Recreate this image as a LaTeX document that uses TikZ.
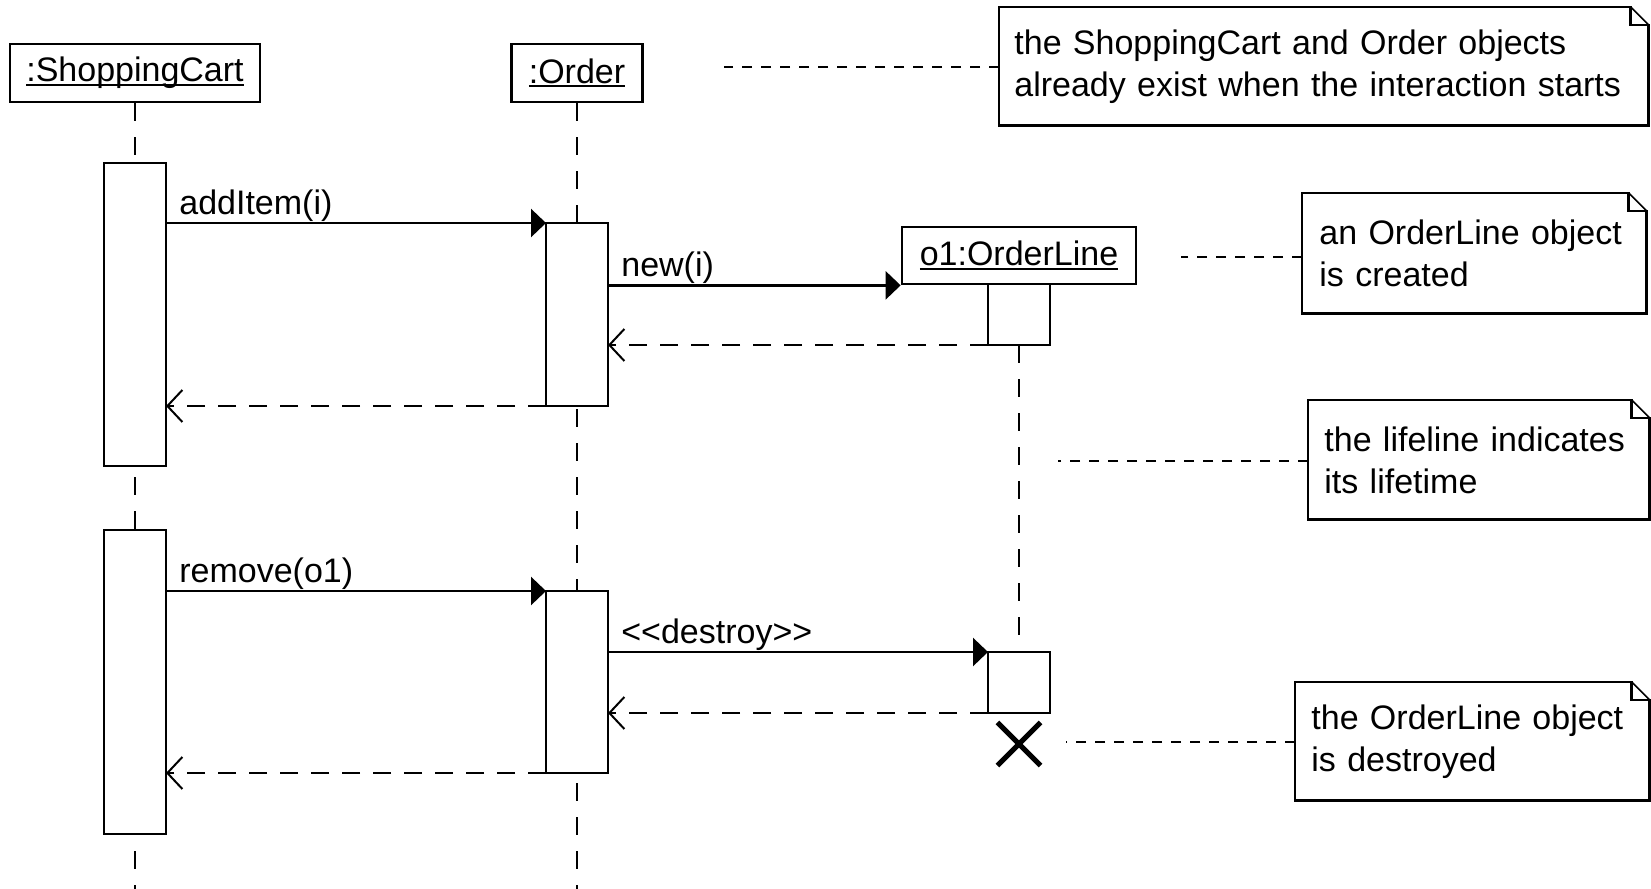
\documentclass[tikz,border=0pt]{standalone}
\usepackage{fontspec}
\setmainfont{Liberation Sans}
\usetikzlibrary{arrows.meta,shapes.misc}
\newcommand\objul[1]{\setbox0\hbox{#1}\rlap{\rule[-2pt]{\wd0}{1pt}}\box0}
\tikzset{
  obj/.style={draw, fill=white, line width=1.35pt, minimum height=29pt, inner sep=0pt},
  bar/.style={draw, fill=white, line width=1.35pt, minimum width=31pt, inner sep=0pt, outer sep=0pt, anchor=north},
  life/.style={line width=1.35pt, dash pattern=on 9pt off 8pt},
  call/.style={line width=1.35pt, -{Triangle[length=7.5pt,width=14pt]}},
  reply/.style={line width=1.35pt, dash pattern=on 9pt off 6.5pt, -{Straight Barb[length=7.5pt,width=16pt,line width=1pt]}},
  lbl/.style={above right, inner sep=0pt, xshift=6pt},
  note/.style={anchor=north west, align=left, inner ysep=0pt},
  link/.style={line width=1.2pt, dash pattern=on 5pt off 4.5pt}
}
\begin{document}
\begin{tikzpicture}[x=0.5pt,y=-0.5pt,font=\fontsize{17}{21}\selectfont]
  \useasboundingbox (0,0) rectangle (1651,889);
  \node[obj, minimum width=125pt] (sc) at (135,73) {\objul{:ShoppingCart}};
  \node[obj, minimum width=65.5pt] (or) at (577,73) {\objul{:Order}};
  \node[obj, minimum width=117pt, minimum height=28.5pt] (ol) at (1019,255.5) {\objul{o1:OrderLine}};
  \coordinate (scend) at (sc.south |- 0,889);
  \coordinate (orend) at (or.south |- 0,889);
  \draw[life] (sc) -- (scend);
  \draw[life] (or) -- (orend);
  \node[bar, minimum height=151.5pt] (sc1) at (135,163) {};
  \node[bar, minimum height=152pt] (sc2) at (135,530) {};
  \node[bar, minimum height=91.5pt] (or1) at (577,223) {};
  \node[bar, minimum height=91pt] (or2) at (577,591) {};
  \node[bar, minimum height=30.5pt] (ol1) at (1019,284) {};
  \node[bar, minimum height=30.5pt] (ol2) at (1019,652) {};
  \draw[life] (ol1) -- (ol2);
  \node[draw, cross out, minimum size=19pt, line width=2.6pt, inner sep=0pt] (kill) at (1019,744) {};

  \draw[call] (sc1.east |- or1.north) node[lbl] (m1) {addItem(i)} -- (or1.north west);
  \draw[call] (or1.east |- ol.south) node[lbl] (m2) {new(i)} -- (ol.south west);
  \draw[reply] (ol1.south west) -- (or1.east |- ol1.south);
  \draw[reply] (or1.south west) -- (sc1.east |- or1.south);
  \draw[call] (sc2.east |- or2.north) node[lbl] (m3) {remove(o1)} -- (or2.north west);
  \draw[call] (or2.east |- ol2.north) node[lbl] (m4) {<\kern0pt<destroy>\kern0pt>} -- (ol2.north west);
  \draw[reply] (ol2.south west) -- (or2.east |- ol2.south);
  \draw[reply] (or2.south west) -- (sc2.east |- or2.south);

  \node[note, minimum width=324.5pt, minimum height=59pt, inner xsep=7.5pt, text width=309.5pt] (n1) at (999,7)
    {the ShoppingCart and Order objects\\already exist when the interaction starts};
  \node[note, minimum width=172pt, minimum height=60pt, inner xsep=8.5pt, text width=155pt] (n2) at (1302,193)
    {an OrderLine object\\is created};
  \node[note, minimum width=170.5pt, minimum height=59.5pt, inner xsep=8pt, text width=154.5pt] (n3) at (1308,400)
    {the lifeline indicates\\its lifetime};
  \node[note, minimum width=177pt, minimum height=59pt, inner xsep=8pt, text width=161pt] (n4) at (1295,682)
    {the OrderLine object\\is destroyed};
  \foreach \n in {n1,n2,n3,n4} {
    \draw[line width=1.35pt] (\n.south west) -- (\n.north west) -- ([xshift=-9pt]\n.north east)
      |- ([yshift=-9pt]\n.north east) -- (\n.south east) -- cycle;
    \draw[line width=0.8pt] ([xshift=-9pt]\n.north east) -- ([yshift=-9pt]\n.north east);
  }
  \coordinate (p1) at (724,67);
  \coordinate (p2) at (1181,257);
  \coordinate (p3) at (1058,461);
  \coordinate (p4) at (1066,742);
  \draw[link] (p1 -| n1.west) -- (p1);
  \draw[link] (p2 -| n2.west) -- (p2);
  \draw[link] (p3 -| n3.west) -- (p3);
  \draw[link] (p4 -| n4.west) -- (p4);
\end{tikzpicture}
\end{document}
